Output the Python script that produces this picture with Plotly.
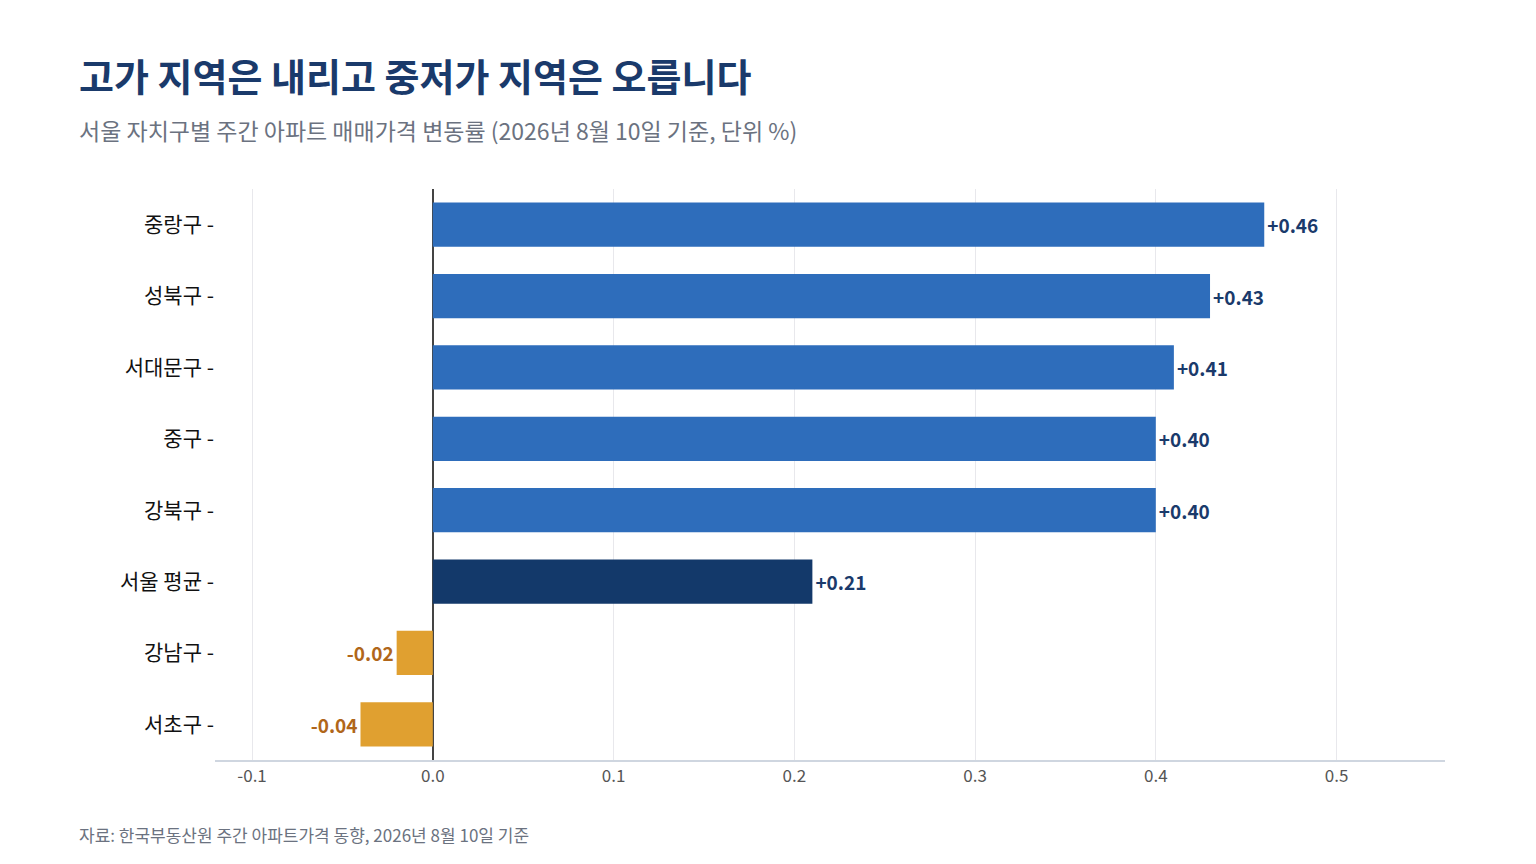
import plotly.graph_objects as go

districts = ["중랑구", "성북구", "서대문구", "중구", "강북구", "서울 평균", "강남구", "서초구"]
changes = [0.46, 0.43, 0.41, 0.40, 0.40, 0.21, -0.02, -0.04]

colors = []
text_colors = []
for d, v in zip(districts, changes):
    if d == "서울 평균":
        colors.append("#13396a")
    elif v >= 0:
        colors.append("#2e6dbb")
    else:
        colors.append("#e0a030")
    text_colors.append("#1a3a6b" if v >= 0 else "#b0661a")

labels = [f"{v:+.2f}" for v in changes]

fig = go.Figure(go.Bar(
    y=districts, x=changes, orientation="h",
    marker=dict(color=colors, line_width=0),
    text=labels, textposition="outside",
    textfont=dict(size=19, color=text_colors, family="Noto Sans CJK KR", weight="bold"),
    cliponaxis=False, width=0.62,
))

fig.update_layout(
    width=1536, height=864,
    paper_bgcolor="white", plot_bgcolor="white",
    margin=dict(l=207, r=99, t=181, b=112),
    font=dict(family="Noto Sans CJK KR", color="#222"),
    showlegend=False,
    annotations=[
        dict(text="<b>고가 지역은 내리고 중저가 지역은 오릅니다</b>", x=69, y=42, xref="paper", yref="paper",
             showarrow=False),
        dict(text="서울 자치구별 주간 아파트 매매가격 변동률 (2026년 8월 10일 기준, 단위 %)", x=0, y=0,
             showarrow=False),
        dict(text="자료: 한국부동산원 주간 아파트가격 동향, 2026년 8월 10일 기준", x=0, y=0,
             showarrow=False),
    ],
)
# position annotations in pixel-like paper coords
W, H = 1536 - 207 - 99, 864 - 181 - 112
def px(x): return (x - 207) / W
def py(y): return (864 - 112 - y) / H
fig.layout.annotations = [
    dict(text="<b>고가 지역은 내리고 중저가 지역은 오릅니다</b>", x=px(69), y=py(66), xref="paper", yref="paper",
         xanchor="left", yanchor="middle", showarrow=False, font=dict(size=38, color="#1a3a6b")),
    dict(text="서울 자치구별 주간 아파트 매매가격 변동률 (2026년 8월 10일 기준, 단위 %)", x=px(69), y=py(122),
         xref="paper", yref="paper", xanchor="left", yanchor="middle", showarrow=False,
         font=dict(size=23, color="#6b7280")),
    dict(text="자료: 한국부동산원 주간 아파트가격 동향, 2026년 8월 10일 기준", x=px(69), y=py(826),
         xref="paper", yref="paper", xanchor="left", yanchor="middle", showarrow=False,
         font=dict(size=17, color="#6b7280")),
]

fig.update_xaxes(range=[-0.1205, 0.56], tickvals=[-0.1, 0, 0.1, 0.2, 0.3, 0.4, 0.5],
                 ticktext=["-0.1", "0.0", "0.1", "0.2", "0.3", "0.4", "0.5"],
                 showgrid=True, gridcolor="#e8e8ec", zeroline=True, zerolinecolor="#444",
                 zerolinewidth=1.5, showline=True, linecolor="#cfd6e0", linewidth=1.5,
                 tickfont=dict(size=17, color="#555"), ticks="")
fig.update_yaxes(autorange="reversed", ticksuffix=" -", tickfont=dict(size=21, color="#111"),
                 showgrid=False, ticks="")

fig.write_html("out.html")
